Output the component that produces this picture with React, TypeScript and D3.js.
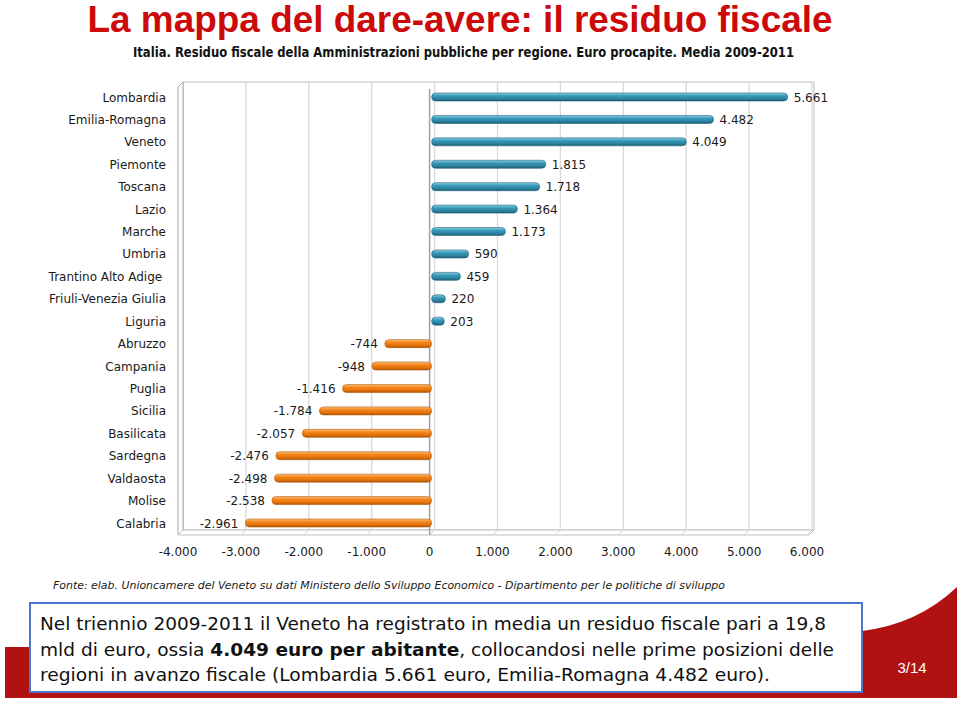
import React from "react";
import * as d3 from "d3";

const regions = [
  "Lombardia", "Emilia-Romagna", "Veneto", "Piemonte", "Toscana", "Lazio", "Marche", "Umbria",
  "Trantino Alto Adige ", "Friuli-Venezia Giulia", "Liguria", "Abruzzo", "Campania", "Puglia",
  "Sicilia", "Basilicata", "Sardegna", "Valdaosta", "Molise", "Calabria",
];
const values = [
  5661, 4482, 4049, 1815, 1718, 1364, 1173, 590, 459, 220, 203,
  -744, -948, -1416, -1784, -2057, -2476, -2498, -2538, -2961,
];
const tickValues = [-4000, -3000, -2000, -1000, 0, 1000, 2000, 3000, 4000, 5000, 6000];

const titleText = "La mappa del dare-avere: il residuo fiscale";
const subtitleText =
  "Italia. Residuo fiscale della Amministrazioni pubbliche per regione. Euro procapite. Media 2009-2011";
const sourceText =
  "Fonte: elab. Unioncamere del Veneto su dati Ministero dello Sviluppo Economico - Dipartimento per le politiche di sviluppo";
const pageText = "3/14";

const itLocale = d3.formatLocale({
  decimal: ",",
  thousands: ".",
  grouping: [3],
  currency: ["", " €"],
  minus: "-",
});
const fmt = itLocale.format(",d");

const W = 960;
const H = 701;
const FONT = "'DejaVu Sans', Verdana, sans-serif";

export default function App() {
  const x = d3.scaleLinear().domain([-4000, 6000]).range([180, 809]);
  const y = d3.scalePoint<string>().domain(regions).range([97, 523]);
  const barH = 8;
  const dx = 5; // 3D depth offset
  const dy = -5;
  const floorY = 535;
  const topY = 87;

  return (
    <svg width={W} height={H} viewBox={`0 0 ${W} ${H}`}
      style={{ position: "absolute", left: 0, top: 0, background: "#fff" }}>
      <defs>
        <linearGradient id="gBlue" x1="0" y1="0" x2="0" y2="1">
          <stop offset="0" stopColor="#8fd0e2" />
          <stop offset="0.35" stopColor="#3a9bbb" />
          <stop offset="0.75" stopColor="#2a7f9c" />
          <stop offset="1" stopColor="#1b5a70" />
        </linearGradient>
        <linearGradient id="gOrange" x1="0" y1="0" x2="0" y2="1">
          <stop offset="0" stopColor="#fdc27e" />
          <stop offset="0.35" stopColor="#f5861c" />
          <stop offset="0.75" stopColor="#e2700a" />
          <stop offset="1" stopColor="#a95204" />
        </linearGradient>
      </defs>

      {/* Title */}
      <text x={460} y={32} textAnchor="middle" fontFamily="'Liberation Sans', Arial, sans-serif"
        fontWeight="bold" fontSize={37} fill="#cc0a0a" textLength={745} lengthAdjust="spacingAndGlyphs">
        {titleText}
      </text>
      <text x={463.5} y={57} textAnchor="middle" fontFamily={FONT} fontWeight="bold" fontSize={13.5}
        fill="#111" textLength={661} lengthAdjust="spacingAndGlyphs">
        {subtitleText}
      </text>

      {/* 3D plot box */}
      {/* back wall */}
      <rect x={x(-4000) - 2 + dx} y={topY + dy} width={x(6000) - x(-4000) + 2}
        height={floorY - topY} fill="#fff" stroke="#bfbfbf" strokeWidth={1} />
      {/* left wall */}
      <path d={`M${x(-4000) - 2},${topY} L${x(-4000) - 2 + dx},${topY + dy} L${x(-4000) - 2 + dx},${floorY + dy} L${x(-4000) - 2},${floorY} Z`}
        fill="#fff" stroke="#a6a6a6" strokeWidth={1} />
      {/* floor */}
      <path d={`M${x(-4000) - 2},${floorY} L${x(-4000) - 2 + dx},${floorY + dy} L${x(6000) + dx},${floorY + dy} L${x(6000)},${floorY} Z`}
        fill="#fff" stroke="#bfbfbf" strokeWidth={1} />
      {/* gridlines on back wall and floor */}
      {tickValues.slice(1).map((t) => (
        <g key={`g${t}`}>
          <line x1={x(t) - 2 + dx} x2={x(t) - 2 + dx} y1={topY + dy} y2={floorY + dy}
            stroke="#d9d9d9" strokeWidth={1.3} />
          <line x1={x(t) - 2 + dx} x2={x(t) - 2} y1={floorY + dy} y2={floorY}
            stroke="#d0d0d0" strokeWidth={1} />
        </g>
      ))}
      {/* zero axis line */}
      <line x1={x(0) - 2} x2={x(0) - 2} y1={topY + 2} y2={floorY} stroke="#a0a0a0" strokeWidth={1.5} />

      {/* Category labels */}
      {regions.map((r) => (
        <text key={`c${r}`} x={166} y={(y(r) as number) + 4.5} textAnchor="end" fontFamily={FONT}
          fontSize={12} fill="#1a1a1a" style={{ whiteSpace: "pre" }}>
          {r}
        </text>
      ))}

      {/* Bars */}
      {regions.map((r, i) => {
        const v = values[i];
        const x0 = Math.min(x(0), x(v));
        const w = Math.abs(x(v) - x(0));
        const cy = y(r) as number;
        return (
          <rect key={`b${r}`} x={x0} y={cy - barH / 2} width={Math.max(w, barH)} height={barH}
            rx={barH / 2} ry={barH / 2} fill={v >= 0 ? "url(#gBlue)" : "url(#gOrange)"}
            stroke={v >= 0 ? "#1f6680" : "#b35a06"} strokeWidth={0.6} />
        );
      })}

      {/* Value labels */}
      {regions.map((r, i) => {
        const v = values[i];
        const cy = y(r) as number;
        return (
          <text key={`v${r}`} x={v >= 0 ? x(v) + 6 : x(v) - 7} y={cy + 4.5}
            textAnchor={v >= 0 ? "start" : "end"} fontFamily={FONT} fontSize={12} fill="#1a1a1a">
            {fmt(v)}
          </text>
        );
      })}

      {/* Axis tick labels */}
      {tickValues.map((t) => (
        <text key={`t${t}`} x={x(t) - 2} y={556} textAnchor="middle" fontFamily={FONT}
          fontSize={12} fill="#1a1a1a">
          {fmt(t)}
        </text>
      ))}

      {/* Source */}
      <text x={53} y={589} fontFamily={FONT} fontStyle="italic" fontSize={11} fill="#1a1a1a"
        textLength={672} lengthAdjust="spacingAndGlyphs">
        {sourceText}
      </text>

      {/* Red decorative band */}
      <path d="M5,647 H862 V631 Q918,624 957,587 V698 H5 Z" fill="#b01212" />

      {/* Text box */}
      <rect x={30} y={603} width={832} height={89} fill="#fff" stroke="#4a76d0" strokeWidth={2} />
      <text x={40} y={630} fontFamily={FONT} fontSize={18.5} fill="#111" textLength={786}
        lengthAdjust="spacingAndGlyphs">
        Nel triennio 2009-2011 il Veneto ha registrato in media un residuo fiscale pari a 19,8
      </text>
      <text x={40} y={656} fontFamily={FONT} fontSize={18.5} fill="#111" textLength={794}
        lengthAdjust="spacingAndGlyphs">
        mld di euro, ossia <tspan fontWeight="bold">4.049 euro per abitante</tspan>, collocandosi nelle prime posizioni delle
      </text>
      <text x={40} y={681} fontFamily={FONT} fontSize={18.5} fill="#111" textLength={730}
        lengthAdjust="spacingAndGlyphs">
        regioni in avanzo fiscale (Lombardia 5.661 euro, Emilia-Romagna 4.482 euro).
      </text>

      {/* Page number */}
      <text x={912} y={673} textAnchor="middle" fontFamily="'Liberation Sans', Arial, sans-serif"
        fontSize={15} fill="#fff">
        {pageText}
      </text>
    </svg>
  );
}
